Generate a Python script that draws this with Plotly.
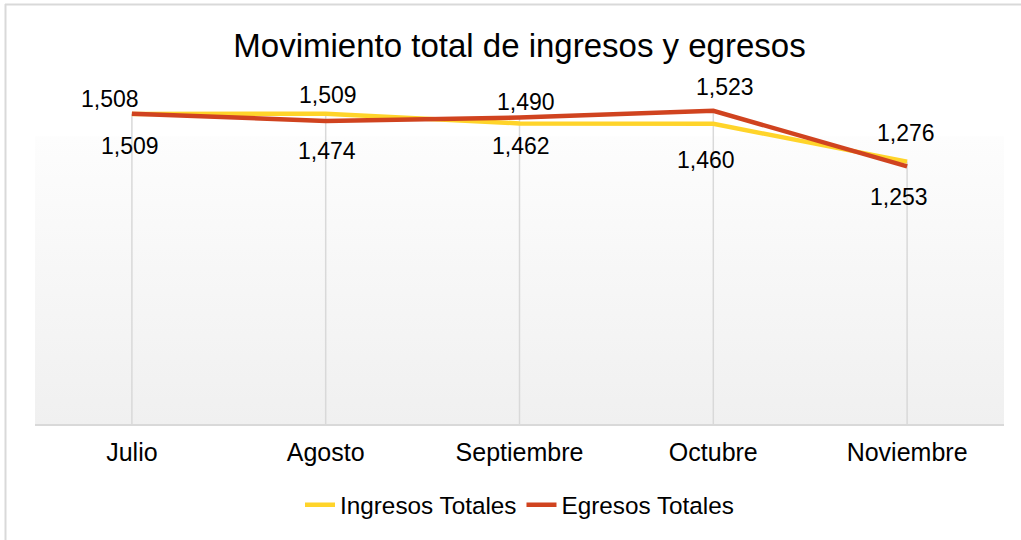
import plotly.graph_objects as go

# ---- data ----
months = ["Julio", "Agosto", "Septiembre", "Octubre", "Noviembre"]
ingresos = [1508, 1509, 1462, 1460, 1276]
egresos = [1509, 1474, 1490, 1523, 1253]
series_names = ["Ingresos Totales", "Egresos Totales"]

# label offsets in pixels (style, not data)
ing_shift = [(-22, 15), (2, 19), (1, -23), (-7, -36), (-1, 29)]
egr_shift = [(-2, -32), (1, -30), (6, 16), (12, 24), (-8, -31)]

W, H = 1021, 540
ML, MR, MT, MB = 35, 17, 95, 116
PW = W - ML - MR
PH = H - MT - MB
YMAX = 1600
GRAD_TOP = 1400

FONT = "Liberation Sans, Arial, sans-serif"
YELLOW = "#FFD42A"
RED = "#D0431F"
GRID = "#d9d9d9"

fig = go.Figure()

# gradient background of plot area
fig.add_trace(go.Scatter(
    x=[0, 1, 1, 0, 0], y=[0, 0, GRAD_TOP, GRAD_TOP, 0],
    mode="lines", fill="toself", line=dict(width=0),
    fillgradient=dict(type="vertical", colorscale=[[0, "#f0f0f0"], [1, "#fdfdfd"]]),
    hoverinfo="skip", showlegend=False, xaxis="x", yaxis="y"))

# drop lines from highest point to axis
dx, dy = [], []
for m, a, b in zip(months, ingresos, egresos):
    dx += [m, m, None]
    dy += [max(a, b), 0, None]
fig.add_trace(go.Scatter(x=dx, y=dy, mode="lines", line=dict(color=GRID, width=1.5),
                         hoverinfo="skip", showlegend=False, xaxis="x2", yaxis="y2"))

fig.add_trace(go.Scatter(x=months, y=ingresos, name=series_names[0], mode="lines",
                         line=dict(color=YELLOW, width=4.5), xaxis="x2", yaxis="y2"))
fig.add_trace(go.Scatter(x=months, y=egresos, name=series_names[1], mode="lines",
                         line=dict(color=RED, width=4.5), xaxis="x2", yaxis="y2"))

annotations = []
for vals, shifts in ((ingresos, ing_shift), (egresos, egr_shift)):
    for m, v, (sx, sy) in zip(months, vals, shifts):
        annotations.append(dict(x=m, y=v, xref="x2", yref="y2", text=f"{v:,}",
                                showarrow=False, xshift=sx, yshift=sy,
                                font=dict(family=FONT, size=23, color="#000000")))

def px_x(p):
    return (p - ML) / PW

def px_y(p):
    return (H - MB - p) / PH

shapes = [
    dict(type="line", xref="paper", yref="paper", x0=px_x(5), x1=px_x(W + 5),
         y0=px_y(4.5), y1=px_y(4.5), line=dict(color=GRID, width=2)),
    dict(type="line", xref="paper", yref="paper", x0=px_x(5.5), x1=px_x(5.5),
         y0=px_y(4), y1=px_y(H + 5), line=dict(color=GRID, width=2)),
]

fig.update_layout(
    width=W, height=H,
    margin=dict(l=ML, r=MR, t=MT, b=MB),
    paper_bgcolor="white", plot_bgcolor="white",
    font=dict(family=FONT, color="#000000"),
    title=dict(text="Movimiento total de ingresos y egresos", x=0.5, xref="paper",
               xanchor="center", y=1 - 45 / H, yanchor="middle",
               font=dict(family=FONT, size=33, color="#000000")),
    xaxis=dict(domain=[0, 1], range=[0, 1], visible=False, fixedrange=True),
    yaxis=dict(domain=[0, 1], range=[0, YMAX], visible=False, fixedrange=True),
    xaxis2=dict(overlaying="x", anchor="y2", type="category", range=[-0.5, 4.5],
                showgrid=False, zeroline=False, showline=True, linecolor=GRID,
                linewidth=2, ticks="", ticklabelstandoff=5,
                tickfont=dict(family=FONT, size=25, color="#000000")),
    yaxis2=dict(overlaying="y", anchor="x2", range=[0, YMAX], visible=False),
    showlegend=True,
    legend=dict(orientation="h", x=0.5, xanchor="center", y=(H - MB - 505) / PH,
                yanchor="middle", font=dict(family=FONT, size=24.3, color="#000000"),
                bgcolor="rgba(0,0,0,0)"),
    annotations=annotations,
    shapes=shapes,
)

fig.write_html("out.html", config={"displayModeBar": False},
               post_script="document.body.style.margin='0';document.body.style.padding='0';")
